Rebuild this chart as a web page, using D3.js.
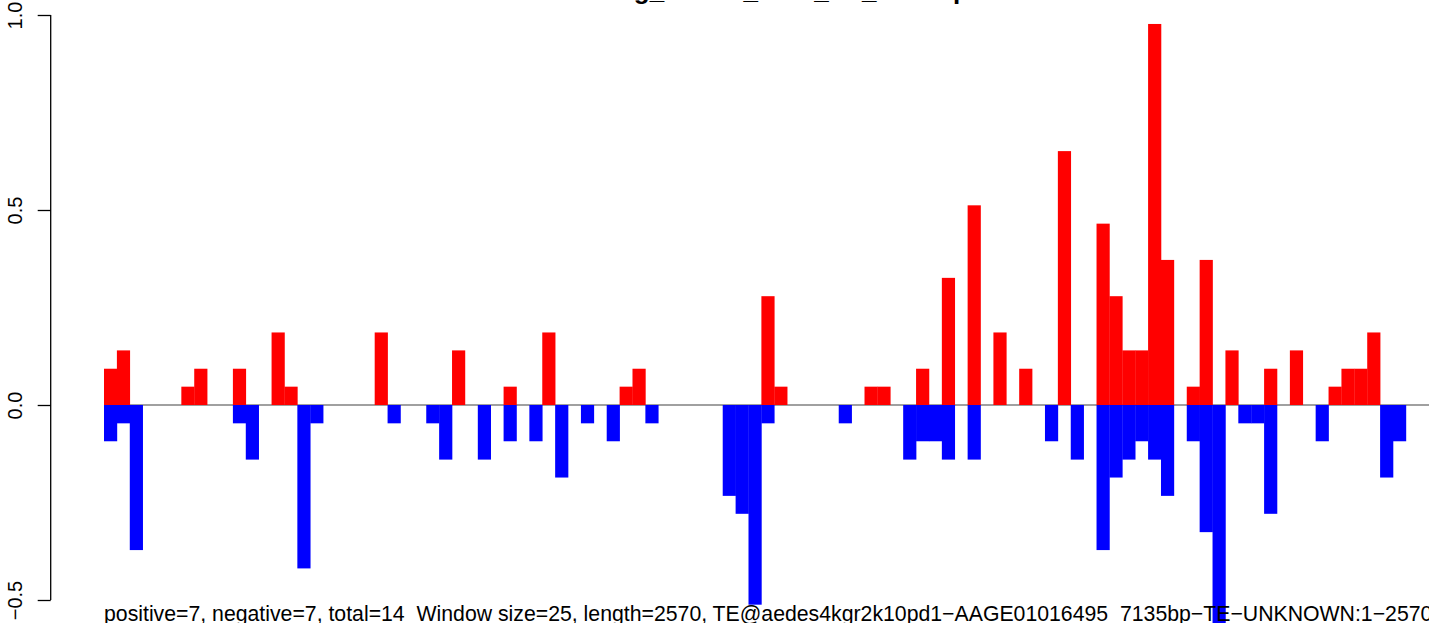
<!DOCTYPE html>
<html>
<head>
<meta charset="utf-8">
<script src="https://cdn.jsdelivr.net/npm/d3@7"></script>
<style>
  html, body { margin: 0; padding: 0; background: #fff; }
  svg { display: block; font-family: "Liberation Sans", Arial, Helvetica, sans-serif; }
</style>
</head>
<body>
<svg id="chart" width="1429" height="623"></svg>
<script>
// window index along the TE (25 bp windows, 103 of them)
const windows = d3.range(103);

// positive strand signal per window
const positive = [
  0.093, 0.140, 0, 0, 0, 0, 0.047, 0.093, 0, 0,
  0.093, 0, 0, 0.186, 0.047, 0, 0, 0, 0, 0,
  0, 0.186, 0, 0, 0, 0, 0, 0.140, 0, 0,
  0, 0.047, 0, 0, 0.186, 0, 0, 0, 0, 0,
  0.047, 0.093, 0, 0, 0, 0, 0, 0, 0, 0,
  0, 0.279, 0.047, 0, 0, 0, 0, 0, 0, 0.047,
  0.047, 0, 0, 0.093, 0, 0.326, 0, 0.512, 0, 0.186,
  0, 0.093, 0, 0, 0.651, 0, 0, 0.465, 0.279, 0.140,
  0.140, 0.977, 0.372, 0, 0.047, 0.372, 0, 0.140, 0, 0,
  0.093, 0, 0.140, 0, 0, 0.047, 0.093, 0.093, 0.186, 0,
  0, 0, 0
];

// negative strand signal per window
const negative = [
  -0.093, -0.047, -0.372, 0, 0, 0, 0, 0, 0, 0,
  -0.047, -0.140, 0, 0, 0, -0.419, -0.047, 0, 0, 0,
  0, 0, -0.047, 0, 0, -0.047, -0.140, 0, 0, -0.140,
  0, -0.093, 0, -0.093, 0, -0.186, 0, -0.047, 0, -0.093,
  0, 0, -0.047, 0, 0, 0, 0, 0, -0.233, -0.279,
  -0.512, -0.047, 0, 0, 0, 0, 0, -0.047, 0, 0,
  0, 0, -0.140, -0.093, -0.093, -0.140, 0, -0.140, 0, 0,
  0, 0, 0, -0.093, 0, -0.140, 0, -0.372, -0.186, -0.140,
  -0.093, -0.140, -0.233, 0, -0.093, -0.326, -0.605, 0, -0.047, -0.047,
  -0.279, 0, 0, 0, -0.093, 0, 0, 0, 0, -0.186,
  -0.093, 0, 0
];

const yTicks = [-0.5, 0, 0.5, 1.0];

const title = "Sliding_strand_ratio_TE_overlap";
const subtitle = "positive=7, negative=7, total=14_Window size=25, length=2570, TE@aedes4kgr2k10pd1\u2212AAGE01016495_7135bp\u2212TE\u2212UNKNOWN:1\u22122570";

const svg = d3.select('#chart');

const barLeft = 104;
const barWidth = 12.89;
const axisX = 50.7;

const xScale = d3.scaleBand()
    .domain(windows)
    .range([barLeft, barLeft + barWidth * windows.length])
    .padding(0);

const yScale = d3.scaleLinear()
    .domain([-0.5, 1.0])
    .range([600, 15]);

// zero line under the bars
svg.append('line')
    .attr('x1', barLeft)
    .attr('x2', 1429)
    .attr('y1', yScale(0))
    .attr('y2', yScale(0))
    .attr('stroke', '#808080')
    .attr('stroke-width', 1.4);

const bars = svg.append('g');

bars.selectAll('.pos')
    .data(windows.filter(i => positive[i] > 0))
    .enter().append('rect')
    .attr('class', 'pos')
    .attr('x', i => xScale(i))
    .attr('width', xScale.bandwidth() + 0.3)
    .attr('y', i => yScale(positive[i]))
    .attr('height', i => yScale(0) - yScale(positive[i]))
    .attr('fill', '#ff0000');

bars.selectAll('.neg')
    .data(windows.filter(i => negative[i] < 0))
    .enter().append('rect')
    .attr('class', 'neg')
    .attr('x', i => xScale(i))
    .attr('width', xScale.bandwidth() + 0.3)
    .attr('y', yScale(0))
    .attr('height', i => yScale(negative[i]) - yScale(0))
    .attr('fill', '#0000ff');

// y axis, R style: rotated labels
const yAxis = d3.axisLeft(yScale)
    .tickValues(yTicks)
    .tickSize(13)
    .tickFormat(d => d3.format('.1f')(d).replace('-', '\u2212'));

const gy = svg.append('g')
    .attr('transform', `translate(${axisX},0)`)
    .call(yAxis);

gy.select('.domain')
    .attr('d', `M0,${yScale(1.0)}V${yScale(-0.5)}`)
    .attr('stroke', '#000')
    .attr('stroke-width', 1.3);
gy.selectAll('.tick line')
    .attr('stroke', '#000')
    .attr('stroke-width', 1.3);
gy.selectAll('.tick text')
    .attr('x', null)
    .attr('dy', null)
    .attr('transform', 'translate(-29,0) rotate(-90)')
    .attr('text-anchor', 'middle')
    .style('font-size', '20px')
    .style('font-family', '"Liberation Sans", Arial, sans-serif')
    .attr('fill', '#000');

// title, mostly above the visible area (cut off as in the original)
svg.append('text')
    .attr('x', 766)
    .attr('y', -1.5)
    .attr('text-anchor', 'middle')
    .style('font-size', '26px')
    .style('font-weight', 'bold')
    .text(title);

// subtitle at the bottom
svg.append('text')
    .attr('x', barLeft)
    .attr('y', 621)
    .style('font-size', '21.25px')
    .attr('fill', '#000')
    .text(subtitle);
</script>
</body>
</html>
